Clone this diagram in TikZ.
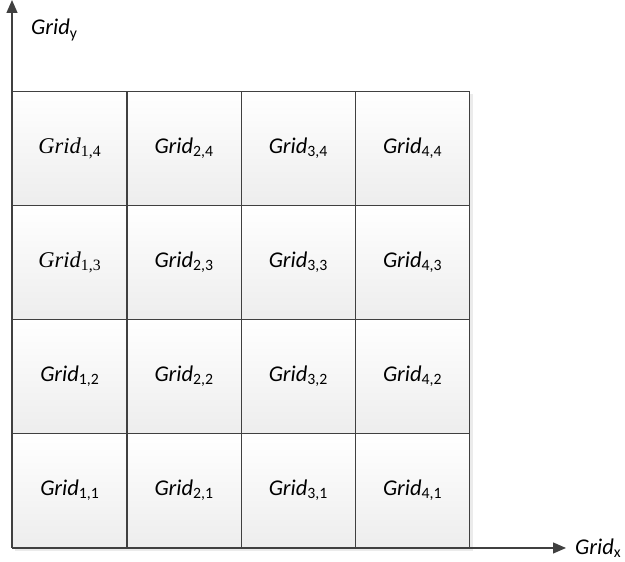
\documentclass[tikz,border=0pt]{standalone}
\usepackage{fontspec}
\setmainfont{Carlito}
\newfontfamily\timesfont{Liberation Serif}
\usetikzlibrary{positioning, arrows.meta, calc, backgrounds}

\newcommand{\celltext}[2]{%
    \ifnum#1=1 \ifnum#2>2 \timesfont\fi\fi
    \textit{Grid}\textsubscript{\upshape#1,#2}}

\begin{document}
\begin{tikzpicture}[
        x=1pt, y=1pt,
        cell/.style={draw=black!75, line width=1.3pt, top color=white, bottom color=black!7,
            minimum width=114.25pt, minimum height=114pt, inner sep=0pt, anchor=south west,
            font=\fontsize{22.5}{26}\selectfont},
        axis/.style={-{Triangle[length=13pt, width=11pt]}, draw=black!75, line width=1.3pt},
        axislabel/.style={font=\fontsize{22.5}{26}\selectfont, inner sep=0pt}
    ]
    \useasboundingbox (0,0) rectangle (625,562);

    % Define the cells
    \foreach \i in {1,...,4} {
        \foreach \j in {1,...,4} {
            \node[cell] (g\i\j) at ({12+(\i-1)*114.25},{14+(\j-1)*114}) {\celltext{\i}{\j}};
        }
    }

    % Shadow behind the grid
    \begin{scope}[on background layer]
        \fill[black!8] ($(g44.north east)+(3,-3)$) rectangle ($(g11.south west)+(3,-3)$);
    \end{scope}

    % Draw the axes
    \coordinate (origin) at (g11.south west);
    \coordinate (ytip) at (12,562);
    \coordinate (xtip) at (566,14);
    \draw[axis] (origin) -- (ytip);
    \draw[axis] (origin) -- (xtip);

    % Axis labels
    \node[axislabel, anchor=west] (ylabel) at (31,532) {\textit{Grid}\textsubscript{y}};
    \node[axislabel, right=9pt of xtip] (xlabel) {\textit{Grid}\textsubscript{x}};
\end{tikzpicture}
\end{document}
